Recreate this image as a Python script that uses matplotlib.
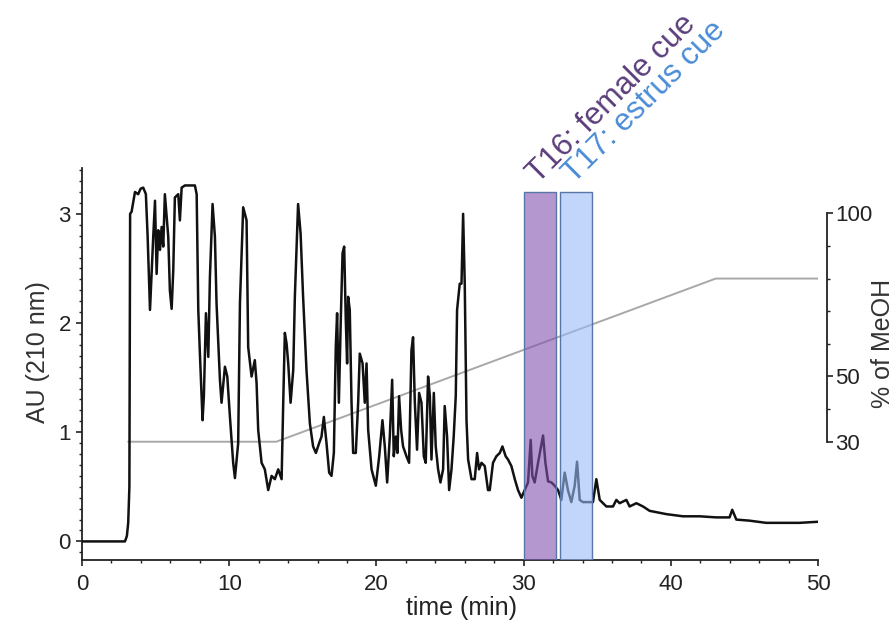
import matplotlib
matplotlib.use("Agg")
import matplotlib.pyplot as plt
from matplotlib.ticker import MultipleLocator, FixedLocator

plt.rcParams['font.family'] = ['Liberation Sans', 'DejaVu Sans']

# UV trace (time in min, absorbance in AU), split by time window
trace_0_10 = [
    (0.0, 0.0), (2.92, 0.0), (3.05, 0.05), (3.14, 0.17), (3.22, 0.5), (3.27, 3.0),
    (3.37, 3.02), (3.60, 3.20), (3.82, 3.18), (3.98, 3.23), (4.16, 3.24), (4.34, 3.18),
    (4.46, 2.79), (4.62, 2.12), (4.84, 2.79), (4.96, 3.12), (5.07, 2.45), (5.18, 2.85),
    (5.30, 2.67), (5.41, 2.88), (5.52, 2.70), (5.63, 3.18), (5.86, 2.79), (5.97, 2.30),
    (6.09, 2.13), (6.20, 2.48), (6.31, 3.15), (6.54, 3.18), (6.65, 2.94), (6.77, 3.24),
    (6.99, 3.26), (7.67, 3.26), (7.79, 3.18), (7.90, 2.12), (8.01, 1.72), (8.19, 1.11),
    (8.28, 1.33), (8.42, 2.09), (8.58, 1.69), (8.69, 2.42), (8.87, 3.09), (9.03, 2.79),
    (9.14, 2.18), (9.37, 1.48), (9.48, 1.27), (9.71, 1.60), (9.87, 1.51),
]
trace_10_20 = [
    (10.05, 1.14), (10.27, 0.72), (10.39, 0.58), (10.61, 0.90), (10.73, 2.18), (10.95, 3.06),
    (11.18, 2.94), (11.29, 1.78), (11.52, 1.51), (11.74, 1.66), (11.86, 1.45), (11.97, 1.02),
    (12.20, 0.72), (12.42, 0.66), (12.65, 0.47), (12.88, 0.60), (13.10, 0.57), (13.33, 0.66),
    (13.56, 0.57), (13.67, 1.27), (13.78, 1.91), (13.90, 1.81), (14.01, 1.63), (14.17, 1.27),
    (14.35, 1.57), (14.46, 2.24), (14.68, 3.09), (14.85, 2.82), (15.02, 2.24), (15.25, 1.57),
    (15.48, 1.08), (15.70, 0.87), (15.89, 0.81), (16.11, 0.90), (16.27, 0.96), (16.43, 1.14),
    (16.61, 0.90), (16.79, 0.63), (16.95, 0.60), (17.11, 0.81), (17.24, 1.78), (17.33, 2.09),
    (17.45, 1.27), (17.58, 2.03), (17.70, 2.64), (17.81, 2.70), (17.92, 2.03), (18.01, 1.63),
    (18.08, 2.24), (18.19, 2.12), (18.31, 1.27), (18.42, 0.81), (18.60, 0.81), (18.76, 1.27),
    (18.87, 1.72), (19.06, 1.63), (19.21, 1.27), (19.33, 1.63), (19.44, 1.02), (19.67, 0.66),
    (19.96, 0.51),
]
trace_20_30 = [
    (20.19, 0.78), (20.41, 1.11), (20.57, 0.87), (20.73, 0.54), (20.91, 0.96), (21.07, 1.48),
    (21.18, 0.78), (21.32, 0.96), (21.43, 0.81), (21.54, 1.33), (21.68, 1.02), (21.81, 0.87),
    (22.04, 0.78), (22.22, 0.72), (22.38, 1.75), (22.49, 1.87), (22.61, 1.27), (22.76, 0.84),
    (22.90, 1.36), (23.06, 1.27), (23.22, 0.78), (23.35, 0.72), (23.51, 1.51), (23.63, 1.33),
    (23.74, 0.75), (23.90, 1.36), (24.03, 0.87), (24.19, 0.66), (24.35, 0.54), (24.53, 0.66),
    (24.64, 1.24), (24.80, 0.96), (24.94, 0.47), (25.10, 0.66), (25.25, 0.96), (25.39, 1.33),
    (25.48, 2.12), (25.66, 2.36), (25.78, 2.36), (25.89, 3.00), (26.00, 2.36), (26.12, 1.11),
    (26.23, 0.75), (26.46, 0.57), (26.68, 0.57), (26.84, 0.81), (26.97, 0.66), (27.14, 0.72),
    (27.36, 0.69), (27.58, 0.47), (27.70, 0.47), (27.92, 0.72), (28.15, 0.78), (28.38, 0.81),
    (28.56, 0.87), (28.78, 0.78), (28.94, 0.75), (29.17, 0.69), (29.40, 0.57), (29.62, 0.47),
    (29.85, 0.40),
]
trace_30_50 = [
    (30.07, 0.47), (30.30, 0.54), (30.48, 0.93), (30.59, 0.60), (30.75, 0.54), (30.98, 0.72),
    (31.32, 0.97), (31.48, 0.72), (31.66, 0.55), (31.89, 0.54), (32.11, 0.51), (32.34, 0.47),
    (32.56, 0.38), (32.79, 0.63), (33.01, 0.47), (33.24, 0.36), (33.47, 0.51), (33.63, 0.73),
    (33.81, 0.38), (34.03, 0.36), (34.71, 0.36), (34.94, 0.57), (35.17, 0.38), (35.62, 0.32),
    (36.07, 0.32), (36.30, 0.38), (36.52, 0.35), (36.98, 0.38), (37.20, 0.32), (37.66, 0.35),
    (38.11, 0.32), (38.56, 0.28), (39.69, 0.25), (40.82, 0.23), (41.96, 0.23), (43.09, 0.22),
    (43.99, 0.22), (44.17, 0.29), (44.45, 0.20), (45.35, 0.19), (46.48, 0.17), (47.61, 0.17),
    (48.74, 0.17), (50.0, 0.18),
]

# MeOH gradient program
grad_time = [3.15, 13.2, 43.05, 50.0]
grad_pct = [30, 30, 80, 80]

# collected fractions
frac_labels = ['T16: female cue', 'T17: estrus cue']
frac_start = [30.0, 32.45]
frac_end = [32.18, 34.67]
frac_top = 3.2
frac_face = ['#8252af', '#98bcf7']
frac_text = ['#5a3d7a', '#4a8cd6']

trace = trace_0_10 + trace_10_20 + trace_20_30 + trace_30_50
t = [p[0] for p in trace]
au = [p[1] for p in trace]

fig = plt.figure(figsize=(8.96, 6.24), dpi=100)
ax = fig.add_axes([0.0915, 0.1026, 0.8215, 0.6282])

ymin, ymax = -0.17, 3.42
ax.plot(t, au, color='#111111', lw=1.8, zorder=3)
ax.set_xlim(0, 50)
ax.set_ylim(ymin, ymax)

# fraction windows, drawn over the trace
for x0, x1, fc, lab, tc in zip(frac_start, frac_end, frac_face, frac_labels, frac_text):
    ax.bar(x0, frac_top - ymin, width=x1 - x0, bottom=ymin, align='edge',
           color=fc, alpha=0.6, edgecolor='none', zorder=4)
    ax.bar(x0, frac_top - ymin, width=x1 - x0, bottom=ymin, align='edge',
           fill=False, edgecolor='#5a76a8', lw=1.0, zorder=5)
    ax.text(x0 + 1.0, 3.27, lab, color=tc, fontsize=22.5, rotation=45,
            rotation_mode='anchor', ha='left', va='baseline', clip_on=False)

for s in ['top', 'right']:
    ax.spines[s].set_visible(False)
for s in ['left', 'bottom']:
    ax.spines[s].set_linewidth(1.3)
    ax.spines[s].set_color('#222222')

ax.xaxis.set_major_locator(MultipleLocator(10))
ax.xaxis.set_minor_locator(MultipleLocator(2))
ax.yaxis.set_major_locator(MultipleLocator(1))
ax.yaxis.set_minor_locator(MultipleLocator(0.1))
ax.tick_params(which='major', direction='out', length=4, width=1.2, labelsize=16,
               colors='#222222')
ax.tick_params(which='minor', direction='out', length=2.5, width=1.0, colors='#222222')
ax.tick_params(axis='x', pad=6)
ax.tick_params(axis='y', pad=4)

ax.set_xlabel('time (min)', fontsize=18, color='#222222')
ax.xaxis.set_label_coords(0.515, -0.092)
ax.set_ylabel('AU (210 nm)', fontsize=18, color='#333333')
ax.yaxis.set_label_coords(-0.043, 0.531)

# second scale for the solvent gradient, 30 % -> 0.913 AU, 100 % -> 3.005 AU
def au_to_pct(v):
    return 30 + (v - 0.913) * 70 / (3.005 - 0.913)

ax2 = ax.twinx()
ax2.set_ylim(au_to_pct(ymin), au_to_pct(ymax))
ax2.plot(grad_time, grad_pct, color='#a8a8a8', lw=1.4, zorder=2)
ax.set_zorder(ax2.get_zorder() + 1)
ax.patch.set_visible(False)

for s in ['top', 'left', 'bottom']:
    ax2.spines[s].set_visible(False)
ax2.spines['right'].set_position(('outward', 6.5))
ax2.spines['right'].set_bounds(30, 100)
ax2.spines['right'].set_linewidth(1.3)
ax2.spines['right'].set_color('#222222')
ax2.yaxis.set_major_locator(FixedLocator([30, 50, 100]))
ax2.yaxis.set_minor_locator(FixedLocator([40, 60, 70, 80, 90]))
ax2.tick_params(which='major', direction='out', length=4, width=1.2, labelsize=16,
                colors='#222222', pad=2)
ax2.tick_params(which='minor', direction='out', length=2.5, width=1.0, colors='#222222')
ax2.set_ylabel('% of MeOH', fontsize=18, color='#333333')
ax2.yaxis.set_label_coords(1.072, 0.553)

fig.savefig('out.png', dpi=100)
